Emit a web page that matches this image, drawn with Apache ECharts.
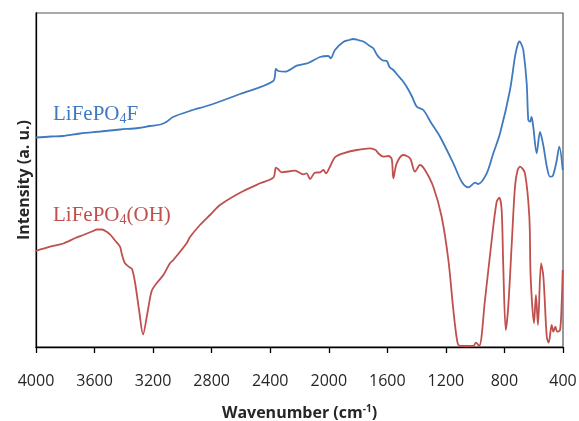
<!DOCTYPE html>
<html>
<head>
<meta charset="utf-8">
<script src="https://cdn.jsdelivr.net/npm/echarts@6/dist/echarts.min.js"></script>
<style>
  html, body { margin: 0; padding: 0; background: #fff; }
  #chart { width: 579px; height: 421px; }
</style>
</head>
<body>
<div id="chart"></div>
<script>
// FTIR spectra, wavenumber (cm-1) vs intensity (arbitrary units)
const wavenumberF = [4000, 3900, 3816, 3699, 3560, 3426, 3300, 3221, 3150, 3107, 3064, 2950, 2811, 2606, 2379, 2361, 2345, 2299, 2219, 2140, 2060, 2003, 1987, 1958, 1901, 1860, 1833, 1800, 1764, 1720, 1696, 1670, 1650, 1630, 1604, 1585, 1559, 1530, 1500, 1468, 1430, 1399, 1354, 1300, 1240, 1149, 1092, 1046, 1000, 980, 921, 876, 830, 762, 728, 710, 697, 685, 671, 648, 637, 625, 615, 603, 580, 557, 535, 510, 489, 470, 445, 425, 402];
const intensityF = [209.5, 210.5, 211, 213.5, 215.5, 217.5, 219, 221, 222.5, 225.3, 230, 236, 242, 253, 266, 278, 276, 275.3, 281.3, 284, 290, 291, 288.7, 297, 305, 307, 308, 307, 305.5, 301, 298.7, 292, 288.7, 286.5, 286, 280, 277, 272, 267, 260.3, 250, 240.3, 237, 224, 210.3, 183.7, 165.3, 159.7, 164.3, 163, 173.7, 193.7, 213.7, 257, 290.3, 302, 305.5, 303, 297, 263.7, 227, 225.3, 230, 220, 193.7, 215, 202, 180, 170.3, 171, 185, 200.3, 177];

const wavenumberOH = [4000, 3904, 3813, 3730, 3677, 3610, 3585, 3550, 3517, 3490, 3460, 3426, 3415, 3392, 3358, 3344, 3324, 3294, 3269, 3240, 3210, 3176, 3130, 3085, 3062, 2971, 2948, 2880, 2811, 2743, 2606, 2470, 2379, 2361, 2345, 2322, 2231, 2174, 2151, 2128, 2094, 2060, 2037, 2019, 1992, 1958, 1901, 1809, 1718, 1680, 1662, 1628, 1593, 1570, 1559, 1536, 1491, 1445, 1411, 1377, 1343, 1286, 1229, 1183, 1149, 1122, 1104, 1013, 994, 972, 933, 887, 853, 835, 819, 808, 791, 774, 750, 728, 710, 694, 660, 630, 621, 598, 585, 571, 550, 534, 511, 498, 477, 466, 452, 439, 420, 409, 402];
const intensityOH = [96, 100.3, 103.5, 109, 112, 116, 117.5, 117.5, 115.3, 112, 106.5, 100.3, 93.7, 83.7, 79.5, 78, 65, 35, 12.5, 33, 56, 63.7, 72, 83.7, 87, 103.7, 110, 122, 132, 142, 154.3, 163.7, 169.3, 179.3, 177.7, 174.7, 176.3, 172.7, 173.7, 168, 174.3, 174.7, 177, 173.7, 180.3, 189.7, 193.7, 197, 198.7, 197, 193.7, 190.3, 191, 188, 168.7, 183.7, 192, 188.7, 175.3, 182, 177, 160.3, 130.3, 87, 37, 5.3, 1, 1, 4.3, 1, 47, 107, 145.3, 149.3, 137, 80.3, 17, 40.3, 103.7, 160.3, 177, 180.3, 173.7, 130.3, 70.3, 23.7, 52, 22, 83.7, 70.3, 10.3, 4.3, 22, 15.3, 20.3, 15.3, 17, 43.7, 77];

const COLORS = {
  blue: '#3f79c0',
  red: '#c0504d',
  axis: '#000',
  frame: '#555',
  text: '#262626'
};

const zip = (xs, ys) => xs.map((x, i) => [x, ys[i]]);

const chart = echarts.init(document.getElementById('chart'), null, { renderer: 'canvas' });

const serifRich = color => ({
  a: { fontFamily: 'Liberation Serif', fontSize: 21, fill: color },
  s: { fontFamily: 'Liberation Serif', fontSize: 14, fill: color, padding: [10, 0, 0, 0] }
});

chart.setOption({
  animation: false,
  backgroundColor: '#fff',
  grid: {
    left: 36, right: 16, top: 13, bottom: 74,
    containLabel: false,
    outerBoundsMode: 'none',
    show: true, borderColor: COLORS.frame, borderWidth: 1.2
  },
  xAxis: {
    type: 'value',
    inverse: true,
    min: 400, max: 4000, interval: 400,
    axisLine: { show: true, onZero: false, lineStyle: { color: COLORS.axis, width: 1.3 } },
    axisTick: { show: true, inside: false, length: 6, lineStyle: { color: COLORS.axis, width: 1.3 } },
    axisLabel: {
      color: COLORS.text, fontSize: 16, fontFamily: 'Open Sans', margin: 26,
      formatter: v => String(v)
    },
    splitLine: { show: false },
    name: '{b|Wavenumber (cm}{sup|-1}{b|)}',
    nameLocation: 'middle',
    nameGap: 57,
    nameTextStyle: {
      rich: {
        b: { fontFamily: 'Open Sans', fontWeight: 'bold', fontSize: 16, color: COLORS.text },
        sup: { fontFamily: 'Open Sans', fontWeight: 'bold', fontSize: 10, color: COLORS.text, verticalAlign: 'top', padding: [0, 0, 8, 0] }
      }
    }
  },
  yAxis: {
    type: 'value',
    min: 0, max: 334,
    axisLine: { show: true, lineStyle: { color: COLORS.axis, width: 1.3 } },
    axisTick: { show: false },
    axisLabel: { show: false },
    splitLine: { show: false },
    name: 'Intensity (a. u.)',
    nameLocation: 'middle',
    nameGap: 4,
    nameTextStyle: { fontFamily: 'Open Sans', fontWeight: 'bold', fontSize: 16, color: COLORS.text }
  },
  series: [
    {
      name: 'LiFePO4F',
      type: 'line',
      data: zip(wavenumberF, intensityF),
      showSymbol: false,
      smooth: 0.3,
      lineStyle: { color: COLORS.blue, width: 1.8 }
    },
    {
      name: 'LiFePO4(OH)',
      type: 'line',
      data: zip(wavenumberOH, intensityOH),
      showSymbol: false,
      smooth: 0.3,
      lineStyle: { color: COLORS.red, width: 1.8 }
    }
  ],
  graphic: [
    {
      type: 'text', left: 53, top: 104,
      style: { text: '{a|LiFePO}{s|4}{a|F}', rich: serifRich(COLORS.blue) }
    },
    {
      type: 'text', left: 53, top: 205,
      style: { text: '{a|LiFePO}{s|4}{a|(OH)}', rich: serifRich(COLORS.red) }
    }
  ]
});
</script>
</body>
</html>
